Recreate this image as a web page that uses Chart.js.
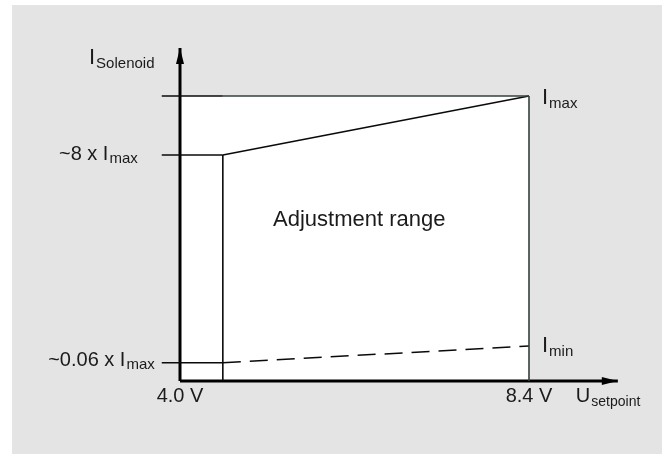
<!DOCTYPE html>
<html>
<head>
<meta charset="utf-8">
<script src="https://cdn.jsdelivr.net/npm/chart.js@4/dist/chart.umd.min.js"></script>
<style>
  html, body { margin: 0; padding: 0; background: #ffffff; }
  #wrap { width: 662px; height: 454px; position: relative; }
</style>
</head>
<body>
<div id="wrap"><canvas id="c"></canvas></div>
<script>
// ---- data (U in volts, I in units of Imax) ----
const uSetpoint      = [4.0, 4.54, 8.4];        // axis origin, knee, max setpoint
const upperCurrent   = [0.793, 1.0];            // upper limit at knee / at 8.4 V
const lowerCurrent   = [0.064, 0.123];          // lower limit (dashed) at knee / at 8.4 V (Imin)
const levelValues    = [1.0, 0.793, 0.064];     // reference levels marked on the I axis
const levelLabels    = [null, ['~8 x I', 'max'], ['~0.06 x I', 'max']];
const xTickValues    = [4.0, 8.4];
const xTickLabels    = ['4.0 V', '8.4 V'];
const tickStartU     = 3.77;                    // where level ticks start (left of axis)
const axisTipU       = 9.52;                    // x-axis arrow tip
const axisTipI       = 1.168;                   // y-axis arrow tip
const regionLabel    = { text: 'Adjustment range', u: 6.26, i: 0.544 };
const endLabels      = [['I', 'max'], ['I', 'min']];
const axisTitles     = { y: ['I', 'Solenoid'], x: ['U', 'setpoint'] };

const FONT = '"Liberation Sans", Arial, Helvetica, sans-serif';
const TXT = '#1b1b1b';
const BOUND_GRAY = '#33403d';

const uStart = uSetpoint[0], uKnee = uSetpoint[1], uEnd = uSetpoint[2];

function line(points, color, width, extra) {
  return Object.assign({
    data: points.map(p => ({ x: p[0], y: p[1] })),
    showLine: true, borderColor: color, borderWidth: width,
    pointRadius: 0, fill: false, clip: false, tension: 0
  }, extra || {});
}

const datasets = [];
// level ticks
levelValues.forEach(v => datasets.push(line([[tickStartU, v], [uKnee, v]], '#0a0a0a', 1.7)));
// top bound (Imax level) and right bound
datasets.push(line([[uKnee, levelValues[0]], [uEnd, levelValues[0]]], BOUND_GRAY, 1.6));
datasets.push(line([[uEnd, 0], [uEnd, upperCurrent[1]]], BOUND_GRAY, 1.6));
// upper sloped limit
datasets.push(line([[uKnee, upperCurrent[0]], [uEnd, upperCurrent[1]]], '#0a0a0a', 1.6));
// lower dashed limit
datasets.push(line([[uKnee, lowerCurrent[0]], [uEnd, lowerCurrent[1]]], '#0a0a0a', 1.5, { borderDash: [18, 9] }));
// knee vertical
datasets.push(line([[uKnee, 0], [uKnee, upperCurrent[0]]], '#0a0a0a', 1.6));
// axes
datasets.push(line([[uStart, 0], [uStart, axisTipI]], '#000000', 3));
datasets.push(line([[uStart, 0], [axisTipU, 0]], '#000000', 3));
// white region (drawn first)
datasets.push(line([[uStart, levelValues[0]], [uEnd, levelValues[0]]], 'rgba(0,0,0,0)', 0,
  { fill: 'origin', backgroundColor: '#ffffff', clip: true }));
datasets.forEach((d, i) => d.order = i);

function drawSub(ctx, x, y, main, sub, mainSize, subSize, drop, align) {
  ctx.font = mainSize + 'px ' + FONT;
  const wm = ctx.measureText(main).width;
  ctx.font = subSize + 'px ' + FONT;
  const ws = ctx.measureText(sub).width;
  const total = wm + 1 + ws;
  let x0 = x;
  if (align === 'right') x0 = x - total;
  if (align === 'center') x0 = x - total / 2;
  ctx.textAlign = 'left';
  ctx.textBaseline = 'alphabetic';
  ctx.font = mainSize + 'px ' + FONT;
  ctx.fillText(main, x0, y);
  ctx.font = subSize + 'px ' + FONT;
  ctx.fillText(sub, x0 + wm + 1, y + drop);
}

const decor = {
  id: 'decor',
  beforeDraw(chart) {
    const ctx = chart.ctx;
    ctx.save();
    ctx.fillStyle = '#ffffff';
    ctx.fillRect(0, 0, chart.width, chart.height);
    ctx.fillStyle = '#e3e4e3';
    ctx.fillRect(12, 5, chart.width - 12, chart.height - 5);
    ctx.restore();
  },
  afterDatasetsDraw(chart) {
    const ctx = chart.ctx;
    const xs = chart.scales.x, ys = chart.scales.y;
    const x0 = xs.getPixelForValue(uStart), y0 = ys.getPixelForValue(0);
    ctx.save();
    ctx.fillStyle = '#000';
    // y arrow
    const ty = ys.getPixelForValue(axisTipI);
    ctx.beginPath();
    ctx.moveTo(x0, ty); ctx.lineTo(x0 - 4, ty + 16); ctx.lineTo(x0 + 4, ty + 16); ctx.closePath(); ctx.fill();
    // x arrow
    const tx = xs.getPixelForValue(axisTipU);
    ctx.beginPath();
    ctx.moveTo(tx, y0); ctx.lineTo(tx - 16, y0 - 4); ctx.lineTo(tx - 16, y0 + 4); ctx.closePath(); ctx.fill();

    ctx.fillStyle = TXT;
    // axis titles
    drawSub(ctx, x0 - 91, ty + 16, axisTitles.y[0], axisTitles.y[1], 22, 15, 4, 'left');
    drawSub(ctx, tx - 42, y0 + 21, axisTitles.x[0], axisTitles.x[1], 20, 14, 4, 'left');
    // x tick labels
    ctx.font = '20px ' + FONT; ctx.textAlign = 'center'; ctx.textBaseline = 'alphabetic';
    xTickValues.forEach((v, i) => ctx.fillText(xTickLabels[i], xs.getPixelForValue(v), y0 + 21));
    // level labels
    const tickPx = xs.getPixelForValue(tickStartU);
    drawSub(ctx, tickPx - 24, ys.getPixelForValue(levelValues[1]) + 5, levelLabels[1][0], levelLabels[1][1], 20, 15, 3, 'right');
    drawSub(ctx, tickPx - 7, ys.getPixelForValue(levelValues[2]) + 3, levelLabels[2][0], levelLabels[2][1], 20, 15, 3, 'right');
    // end labels
    const xe = xs.getPixelForValue(uEnd) + 13;
    drawSub(ctx, xe, ys.getPixelForValue(upperCurrent[1]) + 8, endLabels[0][0], endLabels[0][1], 22, 15, 4, 'left');
    drawSub(ctx, xe, ys.getPixelForValue(lowerCurrent[1]) + 6, endLabels[1][0], endLabels[1][1], 22, 15, 4, 'left');
    // region label
    ctx.font = '22px ' + FONT; ctx.textAlign = 'center';
    ctx.fillText(regionLabel.text, xs.getPixelForValue(regionLabel.u), ys.getPixelForValue(regionLabel.i));
    ctx.restore();
  }
};

new Chart(document.getElementById('c'), {
  type: 'scatter',
  data: { datasets },
  options: {
    responsive: true,
    maintainAspectRatio: false,
    animation: false,
    events: [],
    layout: { padding: { left: 180, right: 133, top: 96, bottom: 73 } },
    plugins: { legend: { display: false }, tooltip: { enabled: false } },
    scales: {
      x: { type: 'linear', min: uStart, max: uEnd, display: false },
      y: { type: 'linear', min: 0, max: 1, display: false }
    }
  },
  plugins: [decor]
});
</script>
</body>
</html>
